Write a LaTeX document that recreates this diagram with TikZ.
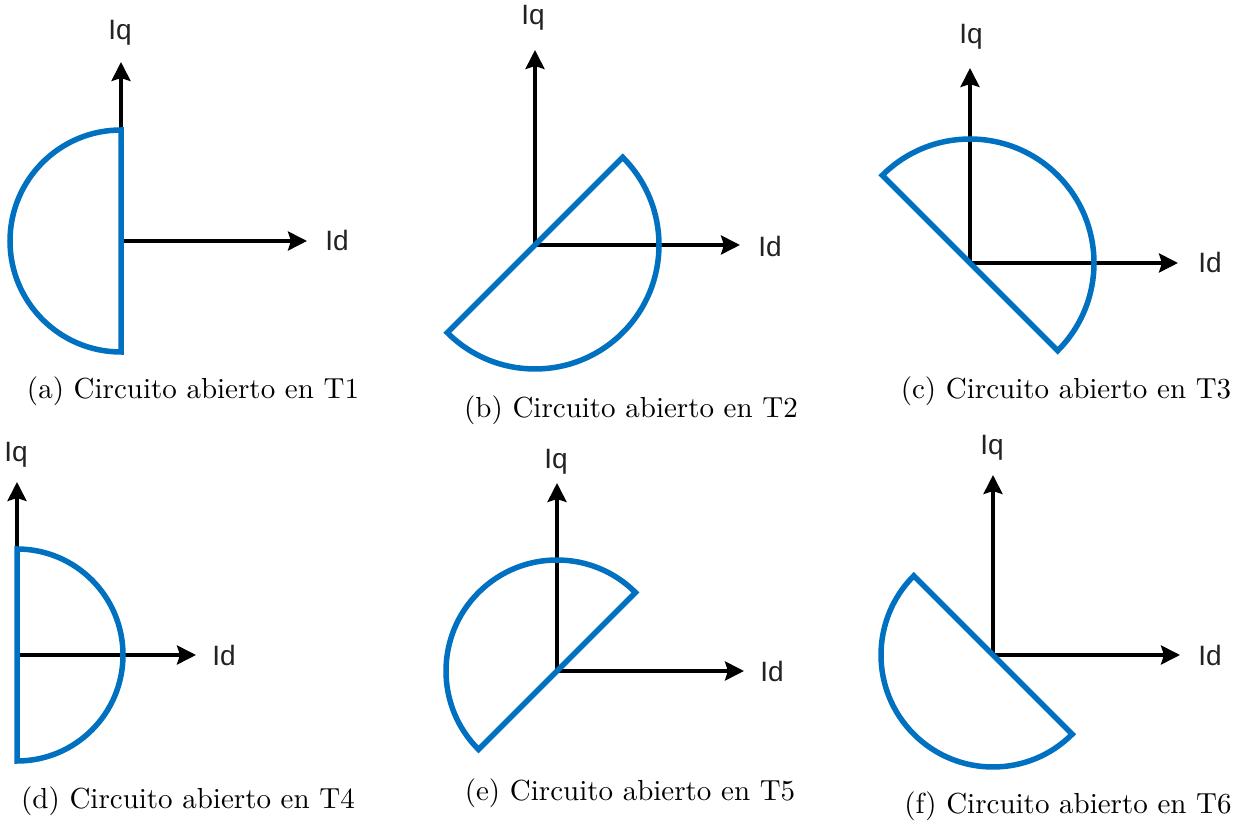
\documentclass[tikz,border=0pt]{standalone}
\usepackage{fontspec}
\newfontfamily\labelfont{Liberation Sans}
\usetikzlibrary{arrows.meta,calc}
\definecolor{arcblue}{HTML}{0070C0}
\definecolor{labgray}{HTML}{222222}
\newcommand{\capt}[1]{\scalebox{2.9}{\fontsize{10}{12}\selectfont #1}}
\tikzset{
  axis/.style={line width=3.6pt,-{Stealth[length=19pt,width=19pt,inset=3pt]}},
  halfdisk/.style={draw=arcblue,line width=5.5pt,line join=miter},
  axlabel/.style={font=\labelfont\fontsize{28}{32}\selectfont,text=labgray,inner sep=0pt},
  caption/.style={inner sep=0pt}
}
\begin{document}
\begin{tikzpicture}[x=1pt,y=1pt]
\useasboundingbox (0,0) rectangle (1244,829);
% (a)
\coordinate (Oa) at (121,588);
\coordinate (Qa) at (121,767);
\coordinate (Da) at (307,588);
\node[axlabel] (qa) at (120,796) {Iq};
\node[axlabel] (da) at (337,588) {Id};
\draw[axis] (Oa) -- (Qa);
\draw[axis] (Oa) -- (Da);
\draw[halfdisk] ($(Oa)+(90:111)$) arc[start angle=90,end angle=270,radius=111] -- cycle;
\node[caption] (ca) at (193,438) {\capt{(a) Circuito abierto en T1}};
% (b)
\coordinate (Ob) at (535,584);
\coordinate (Qb) at (535,779);
\coordinate (Db) at (740,584);
\node[axlabel] (qb) at (533,811) {Iq};
\node[axlabel] (db) at (770,582) {Id};
\draw[axis] (Ob) -- (Qb);
\draw[axis] (Ob) -- (Db);
\draw[halfdisk] ($(Ob)+(45:124)$) arc[start angle=45,end angle=-135,radius=124] -- cycle;
\node[caption] (cb) at (631,419) {\capt{(b) Circuito abierto en T2}};
% (c)
\coordinate (Oc) at (970,566);
\coordinate (Qc) at (970,761);
\coordinate (Dc) at (1178,566);
\node[axlabel] (qc) at (971,792) {Iq};
\node[axlabel] (dc) at (1210,566) {Id};
\draw[axis] (Oc) -- (Qc);
\draw[axis] (Oc) -- (Dc);
\draw[halfdisk] ($(Oc)+(135:124)$) arc[start angle=135,end angle=-45,radius=124] -- cycle;
\node[caption] (cc) at (1066,438) {\capt{(c) Circuito abierto en T3}};
% (d)
\coordinate (Od) at (17,174);
\coordinate (Qd) at (17,347);
\coordinate (Dd) at (196,174);
\node[axlabel] (qd) at (16,374) {Iq};
\node[axlabel] (dd) at (224,174) {Id};
\draw[axis] (Od) -- (Qd);
\draw[axis] (Od) -- (Dd);
\draw[halfdisk] ($(Od)+(90:106)$) arc[start angle=90,end angle=-90,radius=106] -- cycle;
\node[caption] (cd) at (188,28) {\capt{(d) Circuito abierto en T4}};
% (e)
\coordinate (Oe) at (557,158);
\coordinate (Qe) at (557,346);
\coordinate (De) at (744,158);
\node[axlabel] (qe) at (556,367) {Iq};
\node[axlabel] (de) at (772,158) {Id};
\draw[axis] (Oe) -- (Qe);
\draw[axis] (Oe) -- (De);
\draw[halfdisk] ($(Oe)+(45:111)$) arc[start angle=45,end angle=225,radius=111] -- cycle;
\node[caption] (ce) at (630,36) {\capt{(e) Circuito abierto en T5}};
% (f)
\coordinate (Of) at (993,174);
\coordinate (Qf) at (993,354);
\coordinate (Df) at (1180,174);
\node[axlabel] (qf) at (992,381) {Iq};
\node[axlabel] (df) at (1210,174) {Id};
\draw[axis] (Of) -- (Qf);
\draw[axis] (Of) -- (Df);
\draw[halfdisk] ($(Of)+(135:112)$) arc[start angle=135,end angle=315,radius=112] -- cycle;
\node[caption] (cf) at (1068,23) {\capt{(f) Circuito abierto en T6}};
\end{tikzpicture}
\end{document}
